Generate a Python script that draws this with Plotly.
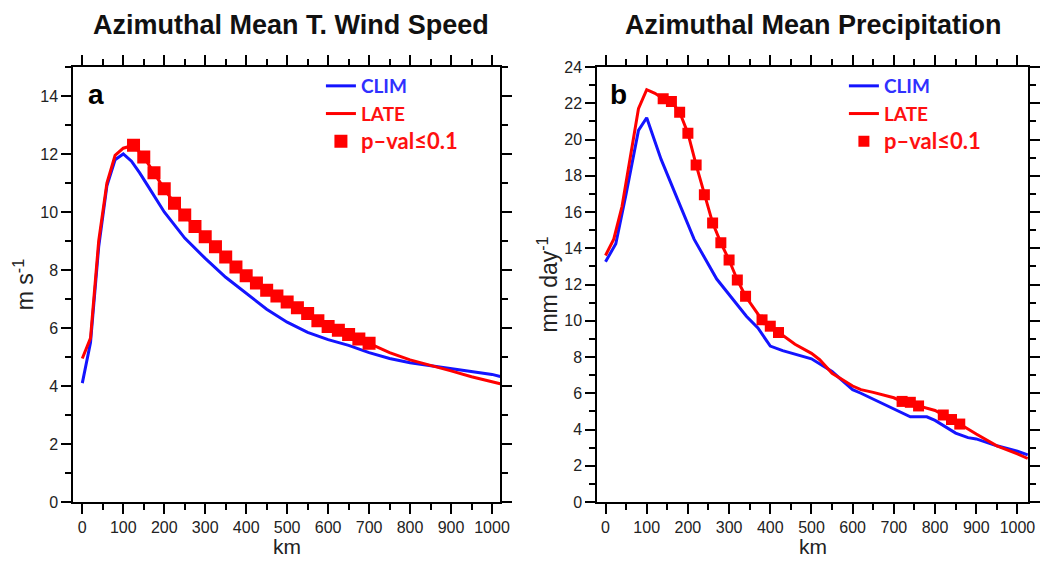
import plotly.graph_objects as go

# ---------------- data ----------------
# Panel a: azimuthal mean tangential wind speed (m s-1)
wind_clim_km = [0, 20, 40, 60, 80, 100, 120, 140, 160, 180, 200, 250, 300, 350, 400,
                450, 500, 550, 600, 650, 700, 750, 800, 850, 900, 950, 1000, 1020]
wind_clim = [4.1, 5.5, 8.8, 10.9, 11.8, 12.0, 11.75, 11.35, 10.9, 10.45, 10.0, 9.1, 8.4,
             7.75, 7.2, 6.65, 6.2, 5.85, 5.6, 5.4, 5.15, 4.95, 4.8, 4.7, 4.6, 4.5, 4.4, 4.33]

wind_late_km = [0, 20, 40, 60, 80, 100, 125, 150, 175, 200, 225, 250, 275, 300, 325, 350,
                375, 400, 425, 450, 475, 500, 525, 550, 575, 600, 625, 650, 675, 700,
                750, 800, 850, 900, 950, 1000, 1020]
wind_late = [4.95, 5.65, 9.0, 11.0, 11.95, 12.2, 12.3, 11.9, 11.35, 10.8, 10.3, 9.9, 9.5,
             9.15, 8.8, 8.45, 8.1, 7.8, 7.55, 7.3, 7.1, 6.9, 6.7, 6.5, 6.25, 6.05, 5.92,
             5.78, 5.62, 5.47, 5.15, 4.9, 4.72, 4.52, 4.32, 4.15, 4.08]
wind_sig_km = [125, 150, 175, 200, 225, 250, 275, 300, 325, 350, 375, 400, 425, 450, 475,
               500, 525, 550, 575, 600, 625, 650, 675, 700]

# Panel b: azimuthal mean precipitation (mm day-1)
pr_clim_km = [0, 25, 50, 80, 100, 135, 175, 215, 270, 300, 342, 370, 400, 430, 500, 550,
              600, 620, 700, 740, 780, 800, 850, 880, 900, 950, 1000, 1025]
pr_clim = [13.25, 14.25, 17.0, 20.5, 21.2, 18.9, 16.7, 14.5, 12.3, 11.45, 10.25, 9.6, 8.6,
           8.35, 7.9, 7.2, 6.2, 6.0, 5.13, 4.7, 4.7, 4.5, 3.8, 3.55, 3.48, 3.1, 2.8, 2.6]

pr_late_km = [0, 20, 40, 60, 80, 100, 120, 140, 160, 180, 200, 220, 240, 260, 280, 300, 320,
              340, 360, 380, 400, 420, 440, 460, 500, 520, 550, 600, 620, 650, 700, 720, 740,
              760, 800, 820, 840, 860, 900, 950, 1000, 1025]
pr_late = [13.6, 14.5, 16.3, 18.9, 21.7, 22.75, 22.55, 22.25, 22.1, 21.5, 20.35, 18.6, 16.95,
           15.4, 14.3, 13.35, 12.25, 11.35, 10.7, 10.05, 9.7, 9.35, 9.0, 8.7, 8.2, 7.85, 7.1,
           6.4, 6.2, 6.05, 5.75, 5.55, 5.5, 5.3, 5.05, 4.8, 4.55, 4.3, 3.75, 3.1, 2.65, 2.4]
pr_sig_km = [140, 160, 180, 200, 220, 240, 260, 280, 300, 320, 340, 380, 400, 420,
             720, 740, 760, 820, 840, 860]

x_ticks = [0, 100, 200, 300, 400, 500, 600, 700, 800, 900, 1000]

# ---------------- styling ----------------
BLUE = "#1414ff"
RED = "#ff0000"
W, H = 1053, 561
TOP, BOT = 67, 502

def px_x(p):
    return p / W

def px_y(p):
    return (BOT - p) / (BOT - TOP)

def sig_vals(km_all, vals, sig_km):
    lookup = dict(zip(km_all, vals))
    return [lookup[k] for k in sig_km]

fig = go.Figure()

# panel a
fig.add_trace(go.Scatter(x=wind_clim_km, y=wind_clim, mode="lines", name='<span style="color:#3030ff">CLIM</span>',
                         line=dict(color=BLUE, width=3), xaxis="x", yaxis="y", legend="legend", legendgroup="a1"))
fig.add_trace(go.Scatter(x=wind_late_km, y=wind_late, mode="lines", name='<span style="color:#ff1010">LATE</span>',
                         line=dict(color=RED, width=3), xaxis="x", yaxis="y", legend="legend", legendgroup="a2"))
fig.add_trace(go.Scatter(x=wind_sig_km, y=sig_vals(wind_late_km, wind_late, wind_sig_km), mode="markers",
                         name='<span style="color:#ff1010;font-size:22px">p\u2013val\u22640.1</span>',
                         marker=dict(symbol="square", size=13, color=RED), xaxis="x", yaxis="y",
                         legend="legend", legendgroup="a3"))
# panel b
fig.add_trace(go.Scatter(x=pr_clim_km, y=pr_clim, mode="lines", name='<span style="color:#3030ff">CLIM</span>',
                         line=dict(color=BLUE, width=3), xaxis="x2", yaxis="y2", legend="legend2", legendgroup="b1"))
fig.add_trace(go.Scatter(x=pr_late_km, y=pr_late, mode="lines", name='<span style="color:#ff1010">LATE</span>',
                         line=dict(color=RED, width=3), xaxis="x2", yaxis="y2", legend="legend2", legendgroup="b2"))
fig.add_trace(go.Scatter(x=pr_sig_km, y=sig_vals(pr_late_km, pr_late, pr_sig_km), mode="markers",
                         name='<span style="color:#ff1010;font-size:22px">p\u2013val\u22640.1</span>',
                         marker=dict(symbol="square", size=11, color=RED), xaxis="x2", yaxis="y2",
                         legend="legend2", legendgroup="b3"))

FONT = "Liberation Sans, Arial, sans-serif"
tickfont = dict(family=FONT, size=16, color="#222")
titlefont = dict(family=FONT, size=23, color="#222")

def xaxis(domain, rng, anchor):
    return dict(domain=domain, range=rng, anchor=anchor, tickvals=x_ticks, ticks="outside",
                ticklen=10, tickwidth=1.5, tickcolor="black", showline=True, linewidth=2,
                linecolor="black", mirror="ticks", showgrid=False, zeroline=False, tickfont=tickfont,
                minor=dict(dtick=50, tick0=0, ticks="outside", ticklen=6, tickwidth=1.5, tickcolor="black"))

def yaxis(rng, anchor, title):
    return dict(range=rng, anchor=anchor, dtick=2, tick0=0, ticks="outside", ticklen=10, tickwidth=1.5,
                tickcolor="black", showline=True, linewidth=2, linecolor="black", mirror="ticks",
                showgrid=False, zeroline=False, tickfont=tickfont,
                minor=dict(dtick=1, tick0=0, ticks="outside", ticklen=6, tickwidth=1.5, tickcolor="black"),
                title=dict(text=title, font=titlefont, standoff=0))

legfont = dict(family="Lato, sans-serif", size=19, weight="bold")

fig.update_layout(
    width=W, height=H,
    margin=dict(l=0, r=0, t=TOP, b=H - BOT, pad=0),
    paper_bgcolor="white", plot_bgcolor="white",
    xaxis=xaxis([px_x(74), px_x(505)], [-22, 1020], "y"),
    yaxis=yaxis([0, 15], "x", "m s<sup>-1</sup>"),
    xaxis2=xaxis([px_x(603), px_x(1038)], [-20, 1026], "y2"),
    yaxis2=yaxis([0, 24], "x2", "mm day<sup>-1</sup>"),
    showlegend=True,
    legend=dict(x=px_x(324), y=1.0, xanchor="left", yanchor="top", font=legfont,
                bgcolor="rgba(0,0,0,0)", tracegroupgap=5, traceorder="normal"),
    legend2=dict(x=px_x(852), y=1.0, xanchor="left", yanchor="top", font=legfont,
                 bgcolor="rgba(0,0,0,0)", tracegroupgap=5, traceorder="normal"),
    annotations=[
        dict(text="<b>Azimuthal Mean T. Wind Speed</b>", x=px_x(294), y=px_y(25), xref="paper", yref="paper",
             xanchor="center", yanchor="middle", showarrow=False,
             font=dict(family=FONT, size=27, color="#111")),
        dict(text="<b>Azimuthal Mean Precipitation</b>", x=px_x(821), y=px_y(25), xref="paper", yref="paper",
             xanchor="center", yanchor="middle", showarrow=False,
             font=dict(family=FONT, size=27, color="#111")),
        dict(text="<b>a</b>", x=px_x(87), y=px_y(94), xref="paper", yref="paper",
             xanchor="left", yanchor="middle", showarrow=False,
             font=dict(family=FONT, size=28, color="black")),
        dict(text="<b>b</b>", x=px_x(614), y=px_y(94), xref="paper", yref="paper",
             xanchor="left", yanchor="middle", showarrow=False,
             font=dict(family=FONT, size=28, color="black")),
        dict(text="km", x=0.5, xref="x domain", y=px_y(546), yref="paper",
             xanchor="center", yanchor="middle", showarrow=False, font=dict(family=FONT, size=21, color="#222")),
        dict(text="km", x=0.5, xref="x2 domain", y=px_y(546), yref="paper",
             xanchor="center", yanchor="middle", showarrow=False, font=dict(family=FONT, size=21, color="#222")),
    ],
)

fig.write_html("out.html")
